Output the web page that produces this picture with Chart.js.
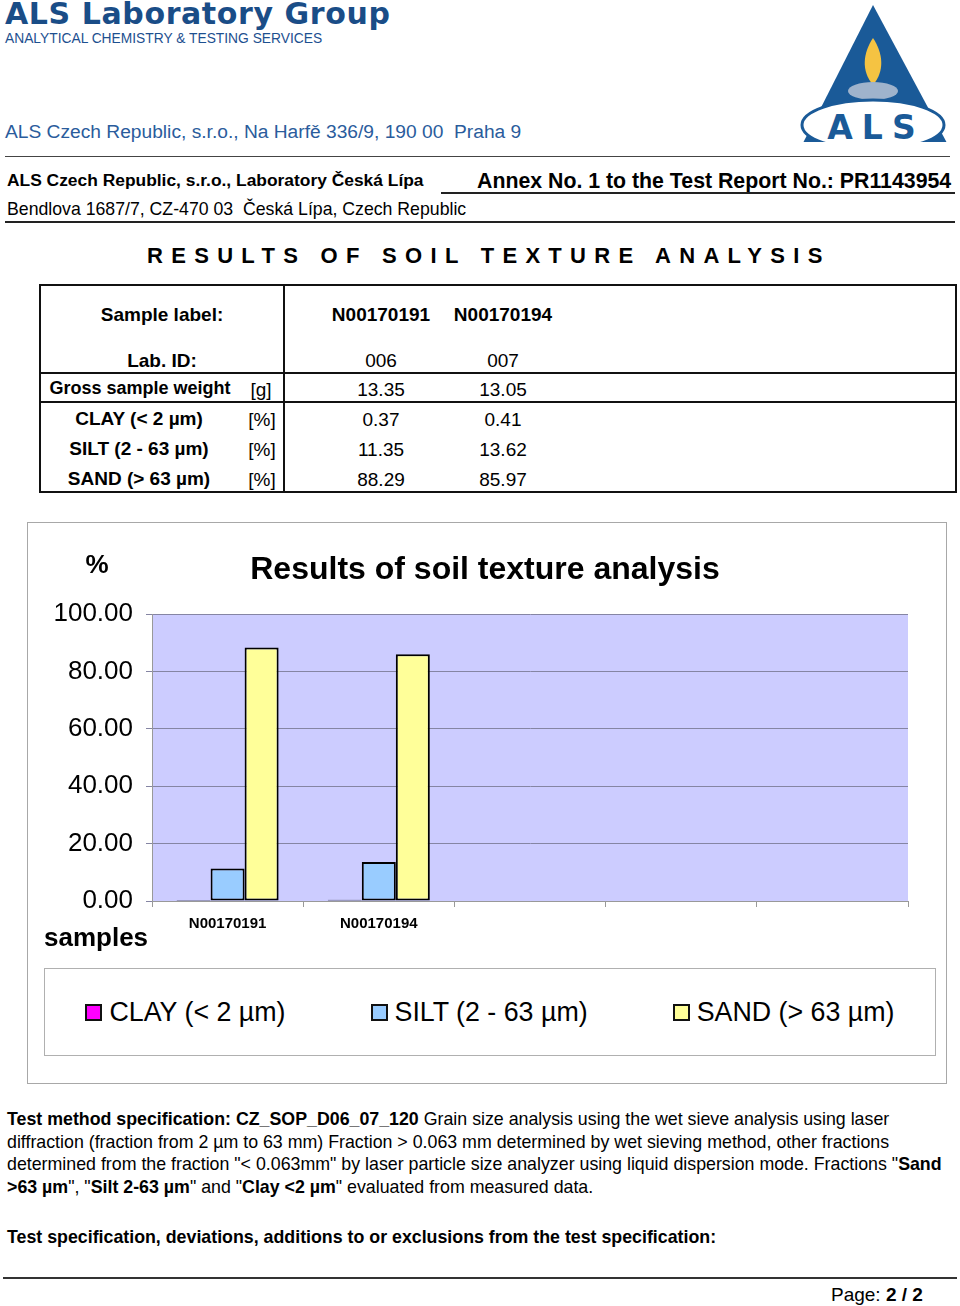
<!DOCTYPE html>
<html>
<head>
<meta charset="utf-8">
<title>Results of soil texture analysis</title>
<script src="https://cdn.jsdelivr.net/npm/chart.js@4.4.0/dist/chart.umd.min.js"></script>
<style>
  body { margin: 0; background: #fff; font-family: "Liberation Sans", Arial, sans-serif; color: #000; }
  #pagina { position: relative; width: 960px; height: 1306px; overflow: hidden; }
  .abs { position: absolute; white-space: nowrap; line-height: 1; }
  .azul { color: #1d5090; }
  .b { font-weight: bold; }
  .linha { position: absolute; background: #222; }
  .centro { transform: translate(-50%, -50%); }
  .meio { transform: translateY(-50%); }
  #tabela { position: absolute; left: 39px; top: 284px; width: 914px; height: 205px; border: 2px solid #111; }
  #quadroGrafico { position: absolute; left: 27px; top: 522px; width: 918px; height: 560px; border: 1px solid #a8a8a8; }
  #areaGrafico { position: absolute; left: 27px; top: 522px; width: 920px; height: 440px; }
  #legenda { position: absolute; left: 44px; top: 968px; width: 890px; height: 86px; border: 1px solid #b0b0b0;
             display: flex; justify-content: center; align-items: center; gap: 85px; }
  .itemLegenda { display: flex; align-items: center; font-size: 26.8px; }
  .caixaLegenda { width: 13px; height: 13px; border: 2px solid #111; margin-right: 7px; }
  #texto { position: absolute; left: 7px; top: 1108px; font-size: 17.8px; line-height: 22.7px; white-space: nowrap; }
  #texto .espaco { height: 27px; }
</style>
</head>
<body>
<div id="pagina">
  <!-- cabecalho -->
  <div class="abs azul b" style="left:5px; top:-1px; font-family:'DejaVu Sans'; font-size:30px; letter-spacing:0.6px; color:#1a4d87;">ALS Laboratory Group</div>
  <div class="abs azul" style="left:5px; top:32px; font-size:13.8px;">ANALYTICAL CHEMISTRY &amp; TESTING SERVICES</div>
  <div class="abs azul" style="left:5px; top:122px; font-size:19.2px; color:#2a5c9c;">ALS Czech Republic, s.r.o., Na Harfě 336/9, 190 00&nbsp; Praha 9</div>

  <svg style="position:absolute; left:800px; top:3px;" width="150" height="148" viewBox="0 0 150 148">
    <polygon points="73,2 3,140 147,140" fill="#1a5a98"/>
    <path d="M73,35 C83,50 85,68 73,82 C61,68 63,50 73,35 Z" fill="#f5c342"/>
    <ellipse cx="73" cy="88" rx="25" ry="9" fill="#9fb3cc"/>
    <ellipse cx="73" cy="122" rx="71" ry="25" fill="#fff" stroke="#1a5a98" stroke-width="3"/>
    <rect x="0" y="139" width="150" height="10" fill="#fff"/>
    <text x="76" y="136" text-anchor="middle" font-family="DejaVu Sans" font-weight="bold" font-size="33" letter-spacing="9" fill="#1a5a98">ALS</text>
  </svg>

  <div class="linha" style="left:5px; top:156px; width:945px; height:1px; background:#444;"></div>
  <div class="abs b" style="left:7px; top:172px; font-size:17.4px;">ALS Czech Republic, s.r.o., Laboratory Česká Lípa</div>
  <div class="abs b" style="left:477px; top:171px; font-size:21.3px;">Annex No. 1 to the Test Report No.: PR1143954</div>
  <div class="linha" style="left:441px; top:192px; width:514px; height:2px;"></div>
  <div class="abs" style="left:7px; top:201px; font-size:17.7px;">Bendlova 1687/7, CZ-470 03&nbsp; Česká Lípa, Czech Republic</div>
  <div class="linha" style="left:5px; top:221px; width:950px; height:2px;"></div>

  <div class="abs b" style="left:147px; top:245px; font-size:22px; letter-spacing:8.3px;">RESULTS OF SOIL TEXTURE ANALYSIS</div>

  <!-- tabela de resultados -->
  <div id="tabela"></div>
  <div id="celulas"></div>

  <!-- grafico -->
  <div id="quadroGrafico"></div>
  <div id="areaGrafico"><canvas id="graficoTextura"></canvas></div>
  <div class="abs b centro" style="left:97px; top:564px; font-size:26px;">%</div>
  <div class="abs b centro" id="tituloGrafico" style="left:485px; top:568px; font-size:32px;"></div>
  <div class="abs b meio" style="left:44px; top:937px; font-size:26px;">samples</div>
  <div id="legenda"></div>

  <!-- texto de especificacao -->
  <div id="texto">
    <b>Test method specification: CZ_SOP_D06_07_120</b> Grain size analysis using the wet sieve analysis using laser<br>
    diffraction (fraction from 2 µm to 63 mm) Fraction &gt; 0.063 mm determined by wet sieving method, other fractions<br>
    determined from the fraction "&lt; 0.063mm" by laser particle size analyzer using liquid dispersion mode. Fractions "<b>Sand</b><br>
    <b>&gt;63 µm</b>", "<b>Silt 2-63 µm</b>" and "<b>Clay &lt;2 µm</b>" evaluated from measured data.
    <div class="espaco"></div>
    <b>Test specification, deviations, additions to or exclusions from the test specification:</b>
  </div>

  <div class="linha" style="left:3px; top:1277px; width:954px; height:2px; background:#333;"></div>
  <div class="abs" style="left:831px; top:1285px; font-size:19px;">Page: <b>2 / 2</b></div>
</div>

<script>
const amostras = ["N00170191", "N00170194"];
const labIds = ["006", "007"];
const pesoBruto = ["13.35", "13.05"];

const tituloGrafico = "Results of soil texture analysis";
const categorias = ["N00170191", "N00170194", "", "", ""];
const fracoes = ["CLAY (< 2 µm)", "SILT (2 - 63 µm)", "SAND (> 63 µm)"];
const argila = [0.37, 0.41, null, null, null];
const silte = [11.35, 13.62, null, null, null];
const areia = [88.29, 85.97, null, null, null];
const coresFracoes = ["#ff00ff", "#99ccff", "#ffff99"];

const ticksY = [0, 20, 40, 60, 80, 100];

const FONTE = '"Liberation Sans", Arial, sans-serif';

function texto(conteudo, x, y, estilo) {
  const div = document.createElement("div");
  div.className = "abs centro";
  div.style.left = x + "px";
  div.style.top = y + "px";
  div.style.cssText += estilo || "";
  div.textContent = conteudo;
  document.getElementById("celulas").appendChild(div);
}

function linha(x, y, w, h) {
  const div = document.createElement("div");
  div.className = "linha";
  div.style.cssText += `left:${x}px;top:${y}px;width:${w}px;height:${h}px;background:#111;`;
  document.getElementById("celulas").appendChild(div);
}

function montarTabela() {
  linha(283, 284, 2, 209);
  linha(39, 372, 918, 2);
  linha(39, 401, 918, 2);

  texto("Sample label:", 162, 314, "font-size:19px;font-weight:bold;");
  texto("Lab. ID:", 162, 360, "font-size:19px;font-weight:bold;");
  texto("Gross sample weight", 140, 388, "font-size:18px;font-weight:bold;");
  texto("[g]", 261, 389, "font-size:19px;");

  const linhasY = [418, 448, 478];
  const valores = [argila, silte, areia];
  fracoes.forEach((nome, i) => {
    texto(nome, 139, linhasY[i], "font-size:19px;font-weight:bold;");
    texto("[%]", 262, linhasY[i] + 1, "font-size:19px;");
  });

  const colunasX = [381, 503];
  amostras.forEach((nome, j) => {
    texto(nome, colunasX[j], 314, "font-size:19px;font-weight:bold;");
    texto(labIds[j], colunasX[j], 360, "font-size:19px;");
    texto(pesoBruto[j], colunasX[j], 389, "font-size:19px;");
    valores.forEach((serie, i) => {
      texto(serie[j].toFixed(2), colunasX[j], linhasY[i] + 1, "font-size:19px;");
    });
  });
}

const fundoAreaPlot = {
  id: "fundoAreaPlot",
  beforeDraw(chart) {
    const { ctx, chartArea } = chart;
    ctx.save();
    ctx.fillStyle = "#ccccff";
    ctx.fillRect(chartArea.left, chartArea.top, chartArea.right - chartArea.left, chartArea.bottom - chartArea.top);
    ctx.restore();
  },
};

function criarGrafico() {
  const ctx = document.getElementById("graficoTextura").getContext("2d");
  const series = [argila, silte, areia];

  return new Chart(ctx, {
    type: "bar",
    data: {
      labels: categorias,
      datasets: fracoes.map((nome, i) => ({
        label: nome,
        data: series[i],
        backgroundColor: coresFracoes[i],
        borderColor: "#000",
        borderWidth: 2,
        borderSkipped: false,
        categoryPercentage: 0.675,
        barPercentage: 1,
      })),
    },
    options: {
      responsive: true,
      maintainAspectRatio: false,
      animation: false,
      layout: { padding: { left: 0, right: 39, top: 92, bottom: 21 } },
      plugins: {
        legend: { display: false },
        tooltip: { enabled: false },
        title: { display: false },
      },
      scales: {
        x: {
          grid: { drawOnChartArea: false, drawTicks: true, tickLength: 6, color: "#999" },
          border: { color: "#999", width: 1 },
          ticks: { color: "#000", padding: 8, font: { family: FONTE, size: 15, weight: "bold" } },
          afterFit: (escala) => { escala.height = 40; },
        },
        y: {
          min: 0,
          max: 100,
          afterBuildTicks: (escala) => { escala.ticks = ticksY.map((v) => ({ value: v })); },
          grid: { color: "#8585a3", tickLength: 6 },
          border: { color: "#999", width: 1 },
          ticks: {
            color: "#000",
            padding: 13,
            font: { family: FONTE, size: 26 },
            callback: (v) => Number(v).toFixed(2),
          },
          afterFit: (escala) => { escala.width = 125; },
        },
      },
    },
    plugins: [fundoAreaPlot],
  });
}

function montarLegenda(grafico) {
  const legenda = document.getElementById("legenda");
  grafico.data.datasets.forEach((ds) => {
    const item = document.createElement("div");
    item.className = "itemLegenda";
    item.innerHTML = `<span class="caixaLegenda" style="background:${ds.backgroundColor}"></span><span></span>`;
    item.lastChild.textContent = ds.label;
    legenda.appendChild(item);
  });
}

document.getElementById("tituloGrafico").textContent = tituloGrafico;
montarTabela();
const graficoTextura = criarGrafico();
montarLegenda(graficoTextura);
</script>
</body>
</html>
